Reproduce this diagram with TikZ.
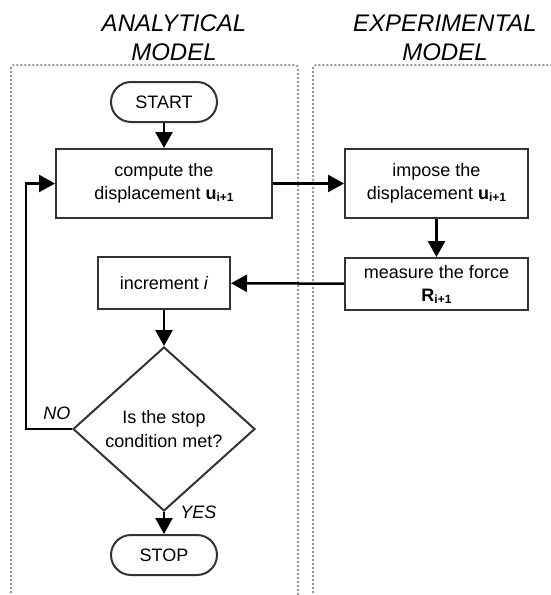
\documentclass[tikz,border=0pt]{standalone}
\usepackage{fontspec}
\setmainfont{Liberation Sans}
\usetikzlibrary{shapes.geometric, positioning, arrows.meta}
\tikzset{
  >={Triangle[length=16pt,width=17pt]},
  node distance=25pt,
  every node/.style={font=\fontsize{18}{23.5}\selectfont},
  box/.style={draw=black!80, line width=2pt, align=center, inner sep=0pt},
  terminal/.style={box, rounded corners=20pt, minimum width=106pt, minimum height=40pt},
  process/.style={box, minimum height=69pt},
  decision/.style={box, diamond, minimum width=182pt, minimum height=164pt},
  flow/.style={->, line width=2.5pt},
  frame/.style={draw=black!40, line width=2pt, dash pattern=on 2pt off 2pt, rounded corners=3pt},
  heading/.style={font=\fontsize{24}{29}\selectfont\itshape, align=center},
  answer/.style={font=\fontsize{18}{23.5}\selectfont\itshape, inner sep=0pt},
}
\newcommand{\idx}[1]{\raisebox{-1.5pt}{\fontsize{12}{12}\selectfont\textbf{#1}}}

\begin{document}
\begin{tikzpicture}[x=1pt, y=-1pt]
      \useasboundingbox (0,0) rectangle (550,595);

      % lanes
      \draw[frame] (11,600) rectangle (298,65);
      \draw[frame] (313,600) rectangle (560,65);
      \node[heading] (analyticaltitle) at (174,38) {ANALYTICAL\\MODEL};
      \node[heading] (experimentaltitle) at (445,38) {EXPERIMENTAL\\MODEL};

      % steps
      \node[terminal] (start) at (164,102) {START};
      \node[process, minimum width=216pt, below=25pt of start] (compute)
            {compute the\\displacement \textbf{u}\idx{i+1}};
      \node[process, minimum width=183pt, right=71pt of compute] (impose)
            {impose the\\displacement \textbf{u}\idx{i+1}};
      \node[box, minimum width=183pt, minimum height=52pt, below=38pt of impose] (measure)
            {measure the force\\\textbf{R}\idx{i+1}};
      \node[box, minimum width=132pt, minimum height=52pt, below=37pt of compute] (increment)
            {increment \textit{i}};
      \node[decision, below=36pt of increment] (check)
            {Is the stop\\condition met?};
      \node[terminal, below=22pt of check] (stop) {STOP};

      \draw[flow] (start) -- (compute);
      \draw[flow] (compute) -- (impose);
      \draw[flow] (impose) -- (measure);
      \draw[flow] (measure) -- (increment);
      \draw[flow] (increment) -- (check);
      \draw[flow] (check) -- node[answer, pos=0, right=15pt] {YES} (stop);
      \draw[flow] (check.west) -- node[answer, pos=0.33, above=8pt] {NO}
            ++(-46pt,0) |- (compute.west);
\end{tikzpicture}
\end{document}
